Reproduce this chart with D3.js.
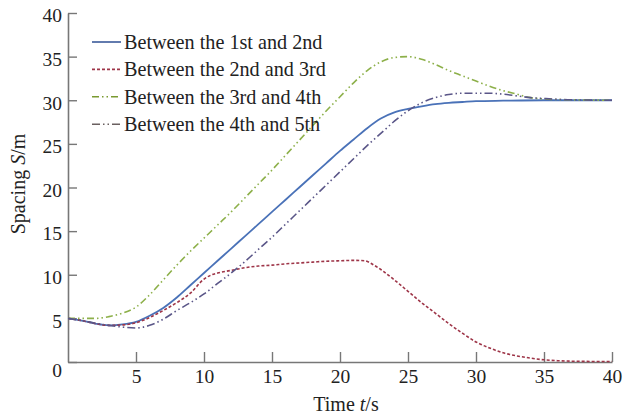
<!DOCTYPE html>
<html>
<head>
<meta charset="utf-8">
<script src="https://cdn.jsdelivr.net/npm/d3@7"></script>
<style>
  body { margin: 0; background: #fff; }
  text { font-family: "Liberation Serif", "DejaVu Serif", serif; fill: #222; }
</style>
</head>
<body>
<svg id="chart" width="635" height="418"></svg>
<script>
// spacing between consecutive vehicles
var t1 = [0, 1, 2, 3, 4, 5, 6, 7, 8, 9, 10, 11, 12, 13, 14, 15, 16, 17, 18, 19, 20, 21, 22, 23, 24, 25, 26, 27, 28, 29, 30, 32, 35, 40];
var s1 = [5.0, 4.75, 4.4, 4.2, 4.3, 4.6, 5.3, 6.2, 7.4, 8.8, 10.2, 11.6, 13.0, 14.4, 15.8, 17.2, 18.6, 20.0, 21.4, 22.8, 24.2, 25.5, 26.8, 27.9, 28.6, 29.0, 29.3, 29.55, 29.7, 29.8, 29.9, 29.95, 30, 30];

var t2 = [0, 1, 2, 3, 4, 5, 6, 7, 8, 9, 10, 10.5, 11, 12, 13, 14, 15, 16, 17, 18, 19, 20, 21, 21.8, 22.5, 23, 24, 25, 26, 27, 28, 29, 30, 31, 32, 33, 34, 35, 36, 38, 40];
var s2 = [5.0, 4.75, 4.4, 4.2, 4.25, 4.5, 5.1, 5.9, 6.8, 7.9, 9.5, 9.95, 10.2, 10.5, 10.8, 11.0, 11.1, 11.25, 11.35, 11.45, 11.55, 11.6, 11.65, 11.6, 11.1, 10.6, 9.4, 8.1, 6.8, 5.6, 4.4, 3.3, 2.3, 1.6, 1.05, 0.7, 0.45, 0.25, 0.15, 0.07, 0.05];

var t3 = [0, 1, 2, 3, 4, 5, 6, 7, 8, 9, 10, 11, 12, 13, 14, 15, 16, 17, 18, 19, 20, 21, 22, 23, 24, 25, 26, 27, 28, 29, 30, 31, 32, 33, 34, 35, 37, 40];
var s3 = [5.0, 5.0, 5.0, 5.2, 5.6, 6.3, 7.7, 9.4, 11.1, 12.7, 14.2, 15.7, 17.2, 18.8, 20.4, 22.0, 23.7, 25.4, 27.1, 28.8, 30.4, 32.0, 33.4, 34.4, 34.9, 35.0, 34.7, 34.1, 33.4, 32.8, 32.2, 31.6, 31.1, 30.7, 30.3, 30.15, 30.05, 30];

var t4 = [0, 1, 2, 3, 4, 5, 6, 7, 8, 9, 10, 11, 12, 13, 14, 15, 16, 17, 18, 19, 20, 21, 22, 23, 24, 25, 26, 27, 28, 29, 30, 31, 32, 33, 34, 35, 37, 40];
var s4 = [5.0, 4.75, 4.45, 4.2, 4.0, 3.9, 4.2, 4.9, 5.9, 6.8, 7.8, 9.0, 10.2, 11.5, 12.9, 14.3, 15.8, 17.3, 18.8, 20.3, 21.8, 23.3, 24.8, 26.2, 27.6, 28.8, 29.7, 30.3, 30.65, 30.8, 30.8, 30.8, 30.7, 30.5, 30.3, 30.2, 30.05, 30];

var seriesNames = ["Between the 1st and 2nd", "Between the 2nd and 3rd", "Between the 3rd and 4th", "Between the 4th and 5th"];
var xTicks = [5, 10, 15, 20, 25, 30, 35, 40];
var yTicks = [0, 5, 10, 15, 20, 25, 30, 35, 40];

var colors = ["#4a72b8", "#9e3548", "#8db04a", "#5a5688"];
var dashes = [null, "3,2", "7,3,1.5,3,1.5,3", "8,3,1.5,3,1.5,3"];
var legendColors = ["#3a5a9a", "#9e3548", "#7a9a30", "#6a6060"];

var svg = d3.select("#chart");

var x = d3.scaleLinear().domain([0, 40]).range([68, 612]);
var y = d3.scaleLinear().domain([0, 40]).range([362, 13]);

var series = [[t1, s1], [t2, s2], [t3, s3], [t4, s4]].map(function(p) {
    return p[0].map(function(t, i) { return {t: t, s: p[1][i]}; });
});

var line = d3.line()
    .x(function(d) { return x(d.t); })
    .y(function(d) { return y(d.s); })
    .curve(d3.curveMonotoneX);

// axes (ticks point inward, no box)
var xAxis = svg.append("g")
    .attr("transform", "translate(0," + y(0) + ")")
    .call(d3.axisBottom(x).tickValues(xTicks).tickSizeInner(-10).tickSizeOuter(0).tickPadding(7));
var yAxis = svg.append("g")
    .attr("transform", "translate(" + x(0) + ",0)")
    .call(d3.axisLeft(y).tickValues(yTicks).tickSizeInner(-9).tickSizeOuter(0).tickPadding(6));

[xAxis, yAxis].forEach(function(a) {
    a.select(".domain").attr("stroke", "#777").attr("stroke-width", 1.6);
    a.selectAll(".tick line").attr("stroke", "#777").attr("stroke-width", 1.4);
    a.selectAll(".tick text")
        .attr("font-family", "Liberation Serif")
        .attr("font-size", 19.5)
        .attr("fill", "#222");
});
yAxis.selectAll(".tick text").attr("dy", function(d) { return d == 0 ? "0.75em" : "0.45em"; });
xAxis.selectAll(".tick text").attr("dy", "0.71em");

svg.append("g").selectAll("path")
    .data(series)
    .enter().append("path")
    .attr("d", line)
    .attr("fill", "none")
    .attr("stroke", function(d, i) { return colors[i]; })
    .attr("stroke-width", function(d, i) { return i == 0 ? 1.8 : 1.6; })
    .attr("stroke-dasharray", function(d, i) { return dashes[i]; });

// legend
var legend = svg.append("g").selectAll("g")
    .data(seriesNames)
    .enter().append("g")
    .attr("transform", function(d, i) { return "translate(0," + (42 + i * 27.4) + ")"; });

legend.append("line")
    .attr("x1", 92).attr("x2", 121)
    .attr("stroke", function(d, i) { return legendColors[i]; })
    .attr("stroke-width", 1.6)
    .attr("stroke-dasharray", function(d, i) { return dashes[i]; });

legend.append("text")
    .attr("x", 124)
    .attr("dy", "0.35em")
    .attr("font-size", 20.2)
    .text(function(d) { return d; });

// axis titles
var xt = svg.append("text")
    .attr("x", 346).attr("y", 411)
    .attr("text-anchor", "middle")
    .attr("font-size", 20);
xt.append("tspan").text("Time ");
xt.append("tspan").attr("font-style", "italic").text("t");
xt.append("tspan").text("/s");

var yt = svg.append("text")
    .attr("transform", "translate(25,184) rotate(-90)")
    .attr("text-anchor", "middle")
    .attr("font-size", 20);
yt.append("tspan").text("Spacing ");
yt.append("tspan").attr("font-style", "italic").text("S");
yt.append("tspan").text("/m");
</script>
</body>
</html>
